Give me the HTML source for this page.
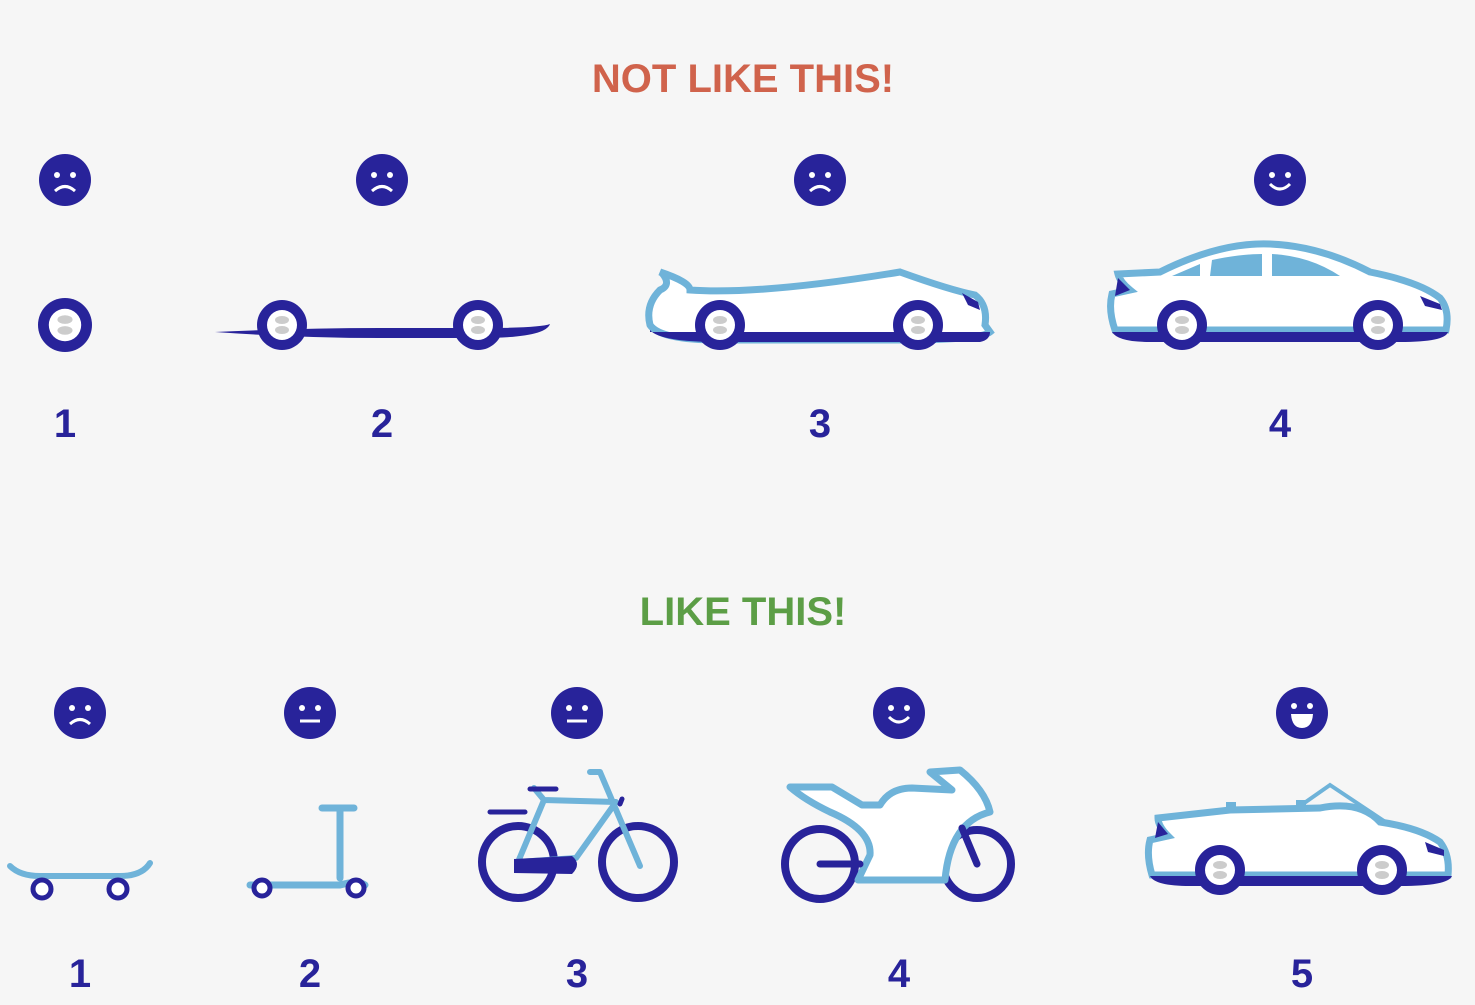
<!DOCTYPE html>
<html><head><meta charset="utf-8"><style>
html,body{margin:0;padding:0;background:#f6f6f6;}
svg{display:block;}
text{font-family:"Liberation Sans",sans-serif;font-weight:bold;}
</style></head><body>
<svg width="1475" height="1005" viewBox="0 0 1475 1005">
<defs>
 <g id="wheel"><circle r="25" fill="#28239a"/><circle r="15" fill="#fff"/><ellipse cy="-5" rx="7" ry="4" fill="#ccc"/><ellipse cy="5" rx="7" ry="4" fill="#ccc"/></g>
 <g id="sad"><circle r="26" fill="#28239a"/><circle cx="-8" cy="-5" r="3" fill="#fff"/><circle cx="8" cy="-5" r="3" fill="#fff"/><path d="M-10,11 Q0,2 10,11" stroke="#fff" stroke-width="3" fill="none"/></g>
 <g id="neutral"><circle r="26" fill="#28239a"/><circle cx="-8" cy="-5" r="3" fill="#fff"/><circle cx="8" cy="-5" r="3" fill="#fff"/><line x1="-10" y1="8" x2="10" y2="8" stroke="#fff" stroke-width="3"/></g>
 <g id="smile"><circle r="26" fill="#28239a"/><circle cx="-8" cy="-5" r="3" fill="#fff"/><circle cx="8" cy="-5" r="3" fill="#fff"/><path d="M-10,4 Q0,14 10,4" stroke="#fff" stroke-width="3" fill="none"/></g>
 <g id="grin"><circle r="26" fill="#28239a"/><circle cx="-8" cy="-7" r="3" fill="#fff"/><circle cx="8" cy="-7" r="3" fill="#fff"/><path d="M-11,1 L11,1 Q10,15 0,15 Q-10,15 -11,1Z" fill="#fff"/></g>
</defs>
<rect width="1475" height="1005" fill="#f6f6f6"/>
<text x="743" y="92" font-size="40" fill="#d0634c" text-anchor="middle">NOT LIKE THIS!</text>
<text x="743" y="625" font-size="40" fill="#5c9e46" text-anchor="middle">LIKE THIS!</text>

<g>
<use href="#sad" x="65" y="180"/><use href="#sad" x="382" y="180"/><use href="#sad" x="820" y="180"/><use href="#smile" x="1280" y="180"/>
</g>
<g>
<use href="#sad" x="80" y="713"/><use href="#neutral" x="310" y="713"/><use href="#neutral" x="577" y="713"/><use href="#smile" x="899" y="713"/><use href="#grin" x="1302" y="713"/>
</g>

<g><use href="#wheel" x="65" y="325" transform="translate(65 325) scale(1.08) translate(-65 -325)"/></g>
<g>
<path d="M215,332 Q300,328 380,328 L480,328 Q540,328 550,324 Q545,338 480,338 L380,338 Q300,338 215,332Z" fill="#28239a"/>
<use href="#wheel" x="282" y="325"/><use href="#wheel" x="478" y="325"/></g>
<g>
<path d="M660,272 Q690,282 690,290 Q760,295 900,272 Q950,290 975,295 Q988,305 985,325 L990,332 Q980,340 900,340 L720,340 Q660,340 650,325 Q645,305 660,290 Q672,285 662,273Z" fill="#fff" stroke="#6fb3d9" stroke-width="7"/>
<path d="M650,330 Q660,342 720,342 L980,342 Q990,340 990,332 L650,332Z" fill="#28239a"/>
<path d="M962,293 L978,302 L980,310 L968,305Z" fill="#28239a"/>
<use href="#wheel" x="720" y="325"/><use href="#wheel" x="918" y="325"/></g>
<g>
<path d="M1118,274 L1160,272 Q1220,242 1270,244 Q1320,246 1370,272 Q1420,282 1440,298 Q1450,310 1446,330 L1115,330 Q1108,310 1112,294 L1130,290 Q1120,282 1118,274Z" fill="#fff" stroke="#6fb3d9" stroke-width="7"/>
<path d="M1172,276 L1200,264 L1200,276Z M1210,276 L1212,260 Q1240,254 1262,254 L1262,276Z M1272,276 L1272,254 Q1310,256 1340,276Z" fill="#6fb3d9"/>
<path d="M1118,278 L1130,290 L1115,296Z M1420,296 L1440,304 L1442,310 L1425,306Z" fill="#28239a"/>
<path d="M1112,332 L1448,332 Q1445,342 1400,342 L1150,342 Q1118,342 1112,332Z" fill="#28239a"/>
<use href="#wheel" x="1182" y="325"/><use href="#wheel" x="1378" y="325"/></g>

<g>
<path d="M10,866 Q20,876 40,876 L120,876 Q142,876 150,863" stroke="#6fb3d9" stroke-width="6" fill="none" stroke-linecap="round"/>
<circle cx="42" cy="889" r="9" fill="#fff" stroke="#28239a" stroke-width="5"/><circle cx="118" cy="889" r="9" fill="#fff" stroke="#28239a" stroke-width="5"/></g>
<g>
<path d="M322,808 L354,808 M340,808 L340,878 M250,885 L340,885 Q358,880 365,885" stroke="#6fb3d9" stroke-width="7" fill="none" stroke-linecap="round"/>
<circle cx="262" cy="888" r="8" fill="#fff" stroke="#28239a" stroke-width="5"/><circle cx="356" cy="888" r="8" fill="#fff" stroke="#28239a" stroke-width="5"/></g>
<g>
<circle cx="518" cy="862" r="36" fill="none" stroke="#28239a" stroke-width="8"/>
<circle cx="638" cy="862" r="36" fill="none" stroke="#28239a" stroke-width="8"/>
<path d="M518,862 L544,800 L616,802 L576,858 Z M544,800 L534,788 M590,772 L600,772 L640,866" stroke="#6fb3d9" stroke-width="6" fill="none" stroke-linecap="round" stroke-linejoin="round"/>
<path d="M530,789 L556,789 M490,812 L525,812 M620,804 L622,799" stroke="#28239a" stroke-width="5" stroke-linecap="round"/>
<path d="M514,859 L572,856 Q582,864 572,874 L514,873Z" fill="#28239a"/></g>
<g>
<circle cx="820" cy="864" r="35" fill="none" stroke="#28239a" stroke-width="8"/>
<circle cx="977" cy="864" r="34" fill="none" stroke="#28239a" stroke-width="8"/>
<path d="M790,787 L832,787 L862,805 L880,805 Q890,788 912,788 L952,790 L930,772 L960,770 Q985,790 990,812 Q950,822 945,880 L858,880 L870,855 Q872,830 830,812 Q805,800 790,787Z" fill="#fff" stroke="#6fb3d9" stroke-width="7" stroke-linejoin="round"/>
<path d="M820,864 L860,864 M977,864 L962,828" stroke="#28239a" stroke-width="7" stroke-linecap="round"/></g>
<g>
<path d="M1158,818 L1230,810 L1320,808 Q1360,800 1380,822 Q1420,828 1440,842 Q1450,855 1448,875 L1152,875 Q1146,855 1150,840 L1168,836 Q1158,826 1158,818Z" fill="#fff" stroke="#6fb3d9" stroke-width="7"/>
<path d="M1300,806 L1330,785 L1390,825" stroke="#6fb3d9" stroke-width="4" fill="none"/>
<rect x="1226" y="802" width="10" height="10" fill="#6fb3d9"/><rect x="1296" y="800" width="10" height="10" fill="#6fb3d9"/>
<path d="M1158,822 L1168,834 L1155,838Z M1425,842 L1444,850 L1444,856 L1428,852Z" fill="#28239a"/>
<path d="M1150,876 L1452,876 Q1448,886 1400,886 L1190,886 Q1155,886 1150,876Z" fill="#28239a"/>
<use href="#wheel" x="1220" y="870"/><use href="#wheel" x="1382" y="870"/></g>

<g font-size="40" fill="#28239a" text-anchor="middle">
<text x="65" y="437">1</text><text x="382" y="437">2</text><text x="820" y="437">3</text><text x="1280" y="437">4</text>
<text x="80" y="987">1</text><text x="310" y="987">2</text><text x="577" y="987">3</text><text x="899" y="987">4</text><text x="1302" y="987">5</text>
</g>
</svg>
</body></html>
